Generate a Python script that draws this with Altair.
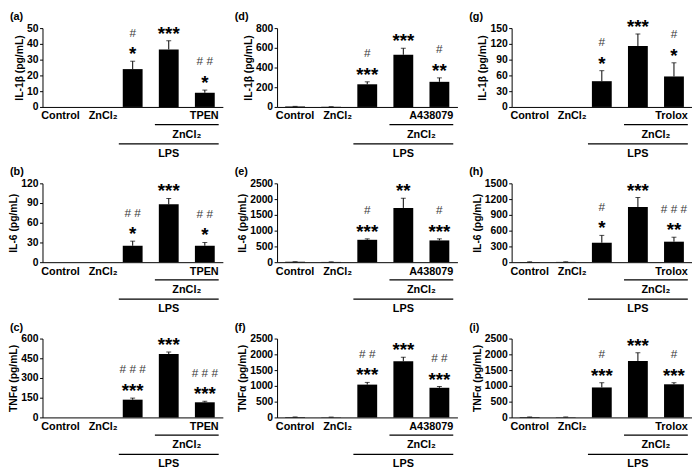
import altair as alt
import pandas as pd

FONT = "Liberation Sans"

categories = ["Control", "ZnCl2", "LPS", "LPS+ZnCl2", "LPS+ZnCl2+Drug"]
x_labels = ["Control", "ZnCl₂", "", "", ""]

drugs = ["TPEN", "A438079", "Trolox"]
y_titles = ["IL-1β (pg/mL)", "IL-6 (pg/mL)", "TNFα (pg/mL)"]
panel_letters = [["(a)", "(d)", "(g)"], ["(b)", "(e)", "(h)"], ["(c)", "(f)", "(i)"]]
y_max = [[50, 800, 150], [120, 2500, 1500], [600, 2500, 2500]]
y_step = [[10, 200, 30], [30, 500, 300], [150, 500, 500]]

# (a) IL-1β, TPEN
a_vals = [0, 0, 24, 36.5, 9]
a_errs = [0, 0, 5, 5.5, 1.7]
a_stars = ["", "", "*", "***", "*"]
a_hash = ["", "", "#", "", "# #"]
# (d) IL-1β, A438079
d_vals = [4, 2, 230, 530, 255]
d_errs = [2, 1, 25, 65, 40]
d_stars = ["", "", "***", "***", "**"]
d_hash = ["", "", "#", "", "#"]
# (g) IL-1β, Trolox
g_vals = [0, 0, 49, 116, 58]
g_errs = [0, 0, 20, 23, 26]
g_stars = ["", "", "*", "***", "*"]
g_hash = ["", "", "#", "", "#"]
# (b) IL-6, TPEN
b_vals = [0, 0, 25, 88, 25]
b_errs = [0, 0, 7, 9, 5]
b_stars = ["", "", "*", "***", "*"]
b_hash = ["", "", "# #", "", "# #"]
# (e) IL-6, A438079
e_vals = [10, 8, 710, 1720, 690]
e_errs = [5, 3, 30, 310, 50]
e_stars = ["", "", "***", "**", "***"]
e_hash = ["", "", "#", "", "#"]
# (h) IL-6, Trolox
h_vals = [5, 5, 370, 1050, 390]
h_errs = [3, 3, 140, 180, 85]
h_stars = ["", "", "*", "***", "**"]
h_hash = ["", "", "#", "", "# # #"]
# (c) TNFα, TPEN
c_vals = [0, 0, 135, 482, 115]
c_errs = [0, 0, 12, 15, 8]
c_stars = ["", "", "***", "***", "***"]
c_hash = ["", "", "# # #", "", "# # #"]
# (f) TNFα, A438079
f_vals = [10, 8, 1040, 1780, 940]
f_errs = [5, 3, 70, 130, 40]
f_stars = ["", "", "***", "***", "***"]
f_hash = ["", "", "# #", "", "# #"]
# (i) TNFα, Trolox
i_vals = [10, 10, 950, 1790, 1050]
i_errs = [5, 5, 150, 260, 50]
i_stars = ["", "", "***", "***", "***"]
i_hash = ["", "", "#", "", "#"]

grid = [
    [(a_vals, a_errs, a_stars, a_hash), (d_vals, d_errs, d_stars, d_hash), (g_vals, g_errs, g_stars, g_hash)],
    [(b_vals, b_errs, b_stars, b_hash), (e_vals, e_errs, e_stars, e_hash), (h_vals, h_errs, h_stars, h_hash)],
    [(c_vals, c_errs, c_stars, c_hash), (f_vals, f_errs, f_stars, f_hash), (i_vals, i_errs, i_stars, i_hash)],
]

P_IN, P_OUT = 0.45, 0.225
BW = 1 - P_IN
W, H = 183, 80
STEP = W / 5
OVERHANG = 4  # bracket lines reach a little past the bars
LETTER_X = [-33, -43, -43]


def center_pos(start_idx):
    """Band index, band position and pixel shift for the centre of a bracket."""
    center = ((start_idx + P_OUT) + (4 + P_OUT + BW)) / 2  # in steps
    band = min(4, max(0, int(center - P_OUT)))
    bp = (center - (band + P_OUT)) / BW
    shift = 0.0
    if bp > 1:
        shift = (bp - 1) * BW * STEP
        bp = 1
    if bp < 0:
        shift = bp * BW * STEP
        bp = 0
    return band, bp, shift


def panel(letter, letter_x, ytitle, ymax, ystep, vals, errs, stars, hashes, drug):
    df = pd.DataFrame({
        "cat": categories,
        "value": vals,
        "err": errs,
        "top": [v + e for v, e in zip(vals, errs)],
        "star": stars,
        "hash": hashes,
    })
    xs = alt.Scale(domain=categories, paddingInner=P_IN, paddingOuter=P_OUT)
    ys = alt.Scale(domain=[0, ymax], nice=False)
    xax = alt.Axis(labels=False, ticks=False, title=None, domain=True)
    yax = alt.Axis(values=list(range(0, ymax + 1, ystep)), title=ytitle, format="d")

    def X(bp=None):
        if bp is None:
            return alt.X("cat:N", scale=xs, sort=categories, axis=xax)
        return alt.X("cat:N", scale=xs, sort=categories, axis=xax, bandPosition=bp)

    def Y(field):
        return alt.Y(field, scale=ys, axis=yax)

    Y0 = alt.YDatum(0, scale=ys, axis=yax)

    bars = alt.Chart(df).mark_bar(color="black").encode(x=X(), y=Y("value:Q"))
    err_df = alt.Chart(df).transform_filter("datum.err > 0")
    rule = err_df.mark_rule(color="black").encode(x=X(), y=Y("value:Q"), y2="top:Q")
    cap = err_df.mark_tick(color="black", size=5, thickness=1).encode(x=X(), y=Y("top:Q"))
    star_t = alt.Chart(df).transform_filter("datum.star != ''").mark_text(
        font=FONT, fontSize=19, fontWeight="bold", baseline="alphabetic", dy=-1,
        color="black").encode(x=X(), y=Y("top:Q"), text="star:N")
    hash_t = alt.Chart(df).transform_filter("datum.hash != ''").mark_text(
        font=FONT, fontSize=12, baseline="alphabetic", dy=-25, color="#3a3a3a").encode(
        x=X(), y=Y("top:Q"), text="hash:N")

    lab_df = pd.DataFrame({"cat": categories, "text": x_labels})
    lab_ctrl = alt.Chart(lab_df).transform_filter("datum.cat == 'Control'").mark_text(
        font=FONT, fontSize=11, fontWeight="bold", baseline="middle", dy=9.5).encode(
        x=X(), y=Y0, text="text:N")
    lab_zn = alt.Chart(lab_df).transform_filter("datum.cat == 'ZnCl2'").mark_text(
        font=FONT, fontSize=11, fontWeight="bold", baseline="middle", dy=9.5,
        align="left").encode(x=X(0.1), y=Y0, text="text:N")

    drug_df = pd.DataFrame({"cat": [categories[4]], "text": [drug]})
    lab_drug = alt.Chart(drug_df).mark_text(
        font=FONT, fontSize=11, fontWeight="bold", baseline="middle", dy=9.5,
        dx=OVERHANG, align="right").encode(x=X(1), y=Y0, text="text:N")

    letter_df = pd.DataFrame({"text": [letter]})
    lab_letter = alt.Chart(letter_df).mark_text(
        font=FONT, fontSize=11, fontWeight="bold", baseline="middle", align="left").encode(
        x=alt.value(letter_x), y=alt.value(-11), text="text:N")

    layers = [bars, rule, cap, star_t, hash_t, lab_ctrl, lab_zn, lab_drug, lab_letter]

    brackets = [("LPS+ZnCl2", "ZnCl₂", 18, 28), ("LPS", "LPS", 37.5, 47.5)]
    for start, txt, line_off, text_off in brackets:
        idx = categories.index(start)
        bdf = pd.DataFrame({"cat": [start], "cat_end": [categories[4]]})
        line = alt.Chart(bdf).mark_rule(
            color="black", strokeWidth=1.2, yOffset=line_off,
            xOffset=-OVERHANG, x2Offset=OVERHANG).encode(
            x=X(0), x2=alt.X2("cat_end:N", bandPosition=1), y=Y0)
        band, bp, shift = center_pos(idx)
        tdf = pd.DataFrame({"cat": [categories[band]], "text": [txt]})
        text = alt.Chart(tdf).mark_text(
            font=FONT, fontSize=11, fontWeight="bold", baseline="middle",
            dy=text_off, dx=shift).encode(x=X(bp), y=Y0, text="text:N")
        layers += [line, text]

    return alt.layer(*layers).properties(width=W, height=H)


panels = []
for r in range(3):
    for c in range(3):
        vals, errs, stars, hashes = grid[r][c]
        panels.append(panel(panel_letters[r][c], LETTER_X[c], y_titles[r], y_max[r][c],
                            y_step[r][c], vals, errs, stars, hashes, drugs[c]))

chart = alt.concat(*panels, columns=3,
                   spacing=alt.RowColnumber(row=7.5, column=12)).properties(
    padding={"left": 0, "top": 0, "right": 0, "bottom": 0}
).configure_view(stroke=None).configure_axis(
    domainColor="black", tickColor="black", labelColor="black", titleColor="black",
    labelFont=FONT, titleFont=FONT, labelFontSize=10.5, labelFontWeight="bold",
    titleFontSize=10.5, titleFontWeight="bold", tickSize=3, labelPadding=1.5,
    titlePadding=2, grid=False, domainWidth=1
)

chart.save("out.html", embed_options={"renderer": "svg", "actions": False})
